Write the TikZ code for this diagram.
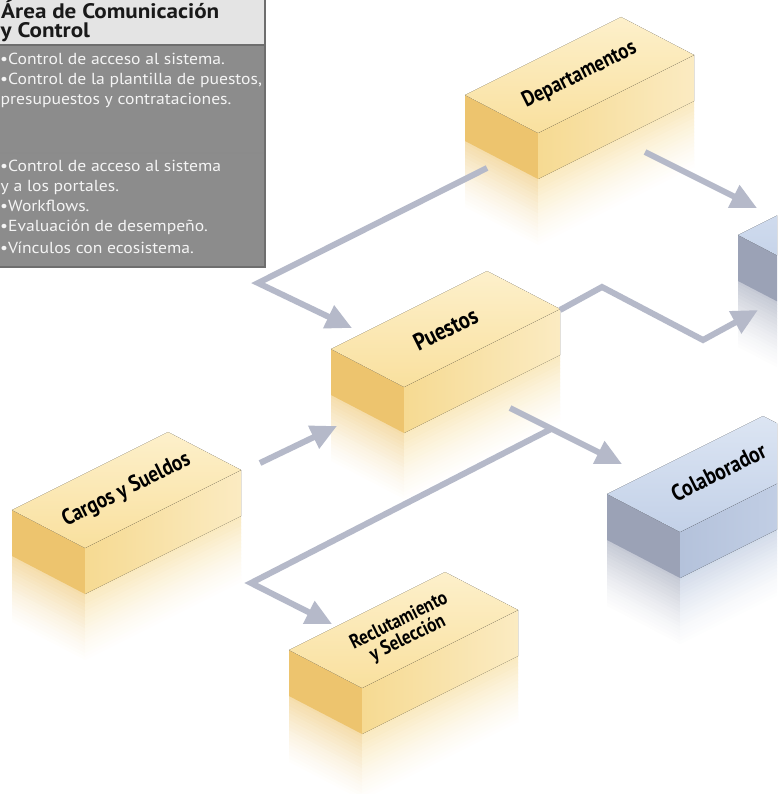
\documentclass[tikz,border=0pt]{standalone}
\usepackage{fontspec}
\setmainfont{PT Sans}
\newfontfamily\lblfont{PT Sans}[FakeStretch=0.86]
\newfontfamily\legfont{PT Sans}[FakeStretch=1.1]
\usetikzlibrary{arrows.meta,calc}
\definecolor{ytop}{HTML}{F9E09E}
\definecolor{ytopb}{HTML}{FDF0CB}
\definecolor{yleft}{HTML}{EDC46E}
\definecolor{yright}{HTML}{F6DA92}
\definecolor{yrightb}{HTML}{FBEBC2}
\definecolor{btop}{HTML}{C3D1E8}
\definecolor{btopb}{HTML}{DCE5F3}
\definecolor{bleft}{HTML}{9BA2B6}
\definecolor{bright}{HTML}{B4C2DB}
\definecolor{brightb}{HTML}{C9D5EA}
\definecolor{arrowc}{HTML}{B5B9C9}
\definecolor{legbody}{HTML}{8C8C8C}
\definecolor{leghead}{HTML}{E4E4E4}
\definecolor{legline}{HTML}{6E6E6E}
\definecolor{legtext}{HTML}{F4F4F4}
\tikzset{
  conn/.style={draw=arrowc, line width=6pt, -{Triangle[length=26pt,width=24pt]}},
  lbl/.style={font=\lblfont\bfseries\fontsize{22}{20}\selectfont, text=black, inner sep=0pt, rotate=26.57, align=center},
  hd/.style={font=\legfont\bfseries\fontsize{21}{20}\selectfont, text=black!90, inner sep=0pt, anchor=base west},
  bd/.style={font=\legfont\fontsize{16}{18}\selectfont, text=legtext, inner sep=0pt, anchor=base west},
}
\newcommand\isobox[4]{%
  \coordinate (#1F) at (#2,#3);
  \coordinate (#1L) at ($(#1F)+(-73,-38)$);
  \coordinate (#1R) at ($(#1F)+(156,-78)$);
  \coordinate (#1B) at ($(#1L)+(156,-78)$);
  \coordinate (#1Fd) at ($(#1F)+(0,46)$);
  \coordinate (#1Ld) at ($(#1L)+(0,46)$);
  \coordinate (#1Rd) at ($(#1R)+(0,46)$);
  \coordinate (#1C) at ($(#1F)+(41.5,-58)$);
  \foreach \k in {0,...,19}{%
    \pgfmathtruncatemacro\pct{58*(1-\k/20)^1.4}%
    \fill[#4left!\pct!white] ($(#1Ld)+(0,\k*3.5-0.6)$) -- ($(#1Fd)+(0,\k*3.5-0.6)$) -- ($(#1Fd)+(0,\k*3.5+3.5)$) -- ($(#1Ld)+(0,\k*3.5+3.5)$) -- cycle;
    \fill[#4right!\pct!white] ($(#1Fd)+(0,\k*3.5-0.6)$) -- ($(#1Rd)+(0,\k*3.5-0.6)$) -- ($(#1Rd)+(0,\k*3.5+3.5)$) -- ($(#1Fd)+(0,\k*3.5+3.5)$) -- cycle;
  }
  \fill[#4left] (#1L) -- (#1F) -- (#1Fd) -- (#1Ld) -- cycle;
  \fill[left color=#4right, right color=#4rightb] (#1F) -- (#1R) -- (#1Rd) -- (#1Fd) -- cycle;
  \fill[top color=#4topb, bottom color=#4top] (#1F) -- (#1L) -- (#1B) -- (#1R) -- cycle;
}
\begin{document}
\begin{tikzpicture}[x=1pt,y=-1pt]
\clip (0,0) rectangle (777,794);
\fill[white] (0,0) rectangle (777,794);

% boxes
\isobox{dep}{538}{133}{y}
\isobox{pue}{404}{387}{y}
\isobox{car}{85}{548}{y}
\isobox{rec}{362}{688}{y}
\isobox{col}{680}{532}{b}
\isobox{blu}{811}{273}{b}

\node[lbl] (tdep) at (depC) {Departamentos};
\node[lbl, font=\lblfont\bfseries\fontsize{24}{20}\selectfont] (tpue) at (pueC) {Puestos};
\node[lbl, font=\lblfont\bfseries\fontsize{22.5}{20}\selectfont] (tcar) at (carC) {Cargos y Sueldos};
\node[lbl, font=\lblfont\bfseries\fontsize{20}{19.5}\selectfont] (trec) at (recC) {Reclutamiento\\y Selección};
\node[lbl, font=\lblfont\bfseries\fontsize{23}{20}\selectfont] (tcol) at ($(colC)+(-3,-2)$) {Colaborador};

% connector points
\coordinate (a1s) at (487,168);
\coordinate (a1c) at (258,283);
\coordinate (a1e) at (352,328);
\coordinate (a2s) at (645,152);
\coordinate (a2e) at (757,208);
\coordinate (a3s) at (560,310);
\coordinate (a3c) at (602,287);
\coordinate (a3d) at (703,340);
\coordinate (a3e) at (758,310);
\coordinate (a4s) at (510,408);
\coordinate (a4e) at (622,464);
\coordinate (a4j) at (551,429);
\coordinate (a5s) at (260,463);
\coordinate (a5e) at (337,426);
\coordinate (a6c) at (251,583);
\coordinate (a6e) at (332,624);

\draw[conn] (a1s) -- (a1c) -- (a1e);
\draw[conn] (a2s) -- (a2e);
\draw[conn] (a3s) -- (a3c) -- (a3d) -- (a3e);
\draw[conn] (a4s) -- (a4e);
\draw[conn] (a5s) -- (a5e);
\draw[conn] (a4j) -- (a6c) -- (a6e);

% legend
\fill[legbody] (-5,-5) rectangle (265,267);
\fill[leghead] (-5,-5) rectangle (265,45);
\draw[legline, line width=1.5pt] (-5,45) -- (265,45);
\draw[legline!80, line width=2pt] (-5,153) -- (265,153);
\draw[legline, line width=2pt] (265,-5) -- (265,267) -- (-5,267);

\node[hd] (h1) at (1,19) {Área de Comunicación};
\node[hd] (h2) at (0.5,38) {y Control};

\node[bd] (b1) at (0,65) {•};
\node[bd] (l1) at (8,65) {Control de acceso al sistema.};
\node[bd] (b2) at (0,85) {•};
\node[bd] (l2) at (8,85) {Control de la plantilla de puestos,};
\node[bd] (l3) at (0.5,105) {presupuestos y contrataciones.};

\node[bd] (b4) at (0,172) {•};
\node[bd] (l4) at (8,172) {Control de acceso al sistema};
\node[bd] (l5) at (0.5,192) {y a los portales.};
\node[bd] (b6) at (0,212) {•};
\node[bd] (l6) at (8,212) {Workflows.};
\node[bd] (b7) at (0,232) {•};
\node[bd] (l7) at (8,232) {Evaluación de desempeño.};
\node[bd] (b8) at (0,253) {•};
\node[bd] (l8) at (8,253) {Vínculos con ecosistema.};
\end{tikzpicture}
\end{document}
